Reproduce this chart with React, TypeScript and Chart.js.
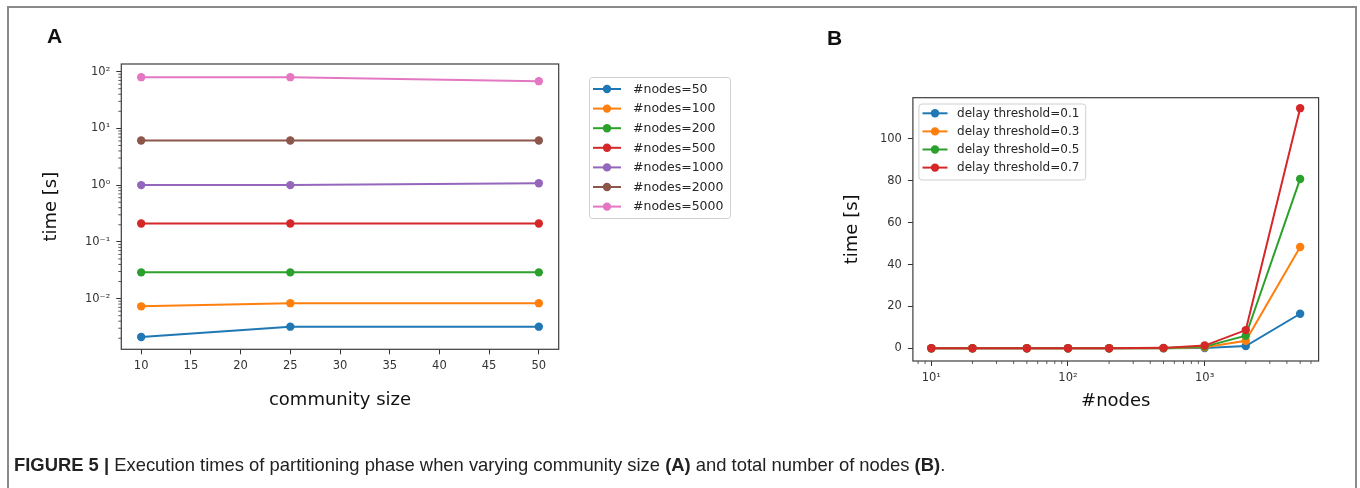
import React, { useEffect, useRef } from 'react';
import { Chart, registerables } from 'chart.js';

Chart.register(...registerables);

// ---------- Panel A data ----------
const communitySizes = [10, 25, 50];
const nodes50 = [0.0021, 0.0032, 0.0032];
const nodes100 = [0.0073, 0.0083, 0.0083];
const nodes200 = [0.029, 0.029, 0.029];
const nodes500 = [0.21, 0.21, 0.21];
const nodes1000 = [1.0, 1.0, 1.08];
const nodes2000 = [6.1, 6.1, 6.1];
const nodes5000 = [80, 80, 68];
const seriesA = [nodes50, nodes100, nodes200, nodes500, nodes1000, nodes2000, nodes5000];
const labelsA = ['#nodes=50', '#nodes=100', '#nodes=200', '#nodes=500', '#nodes=1000', '#nodes=2000', '#nodes=5000'];
const colorsA = ['#1f77b4', '#ff7f0e', '#2ca02c', '#d62728', '#9467bd', '#8c564b', '#e377c2'];
const xTicksA = [10, 15, 20, 25, 30, 35, 40, 45, 50];
const yMajorA = [0.01, 0.1, 1, 10, 100];
const yLabelsA = ['10⁻²', '10⁻¹', '10⁰', '10¹', '10²'];

// ---------- Panel B data ----------
const nodeCounts = [10, 20, 50, 100, 200, 500, 1000, 2000, 5000];
const delay01 = [0.02, 0.02, 0.02, 0.02, 0.02, 0.03, 0.1, 1.1, 16.5];
const delay03 = [0.02, 0.02, 0.02, 0.02, 0.03, 0.06, 0.5, 3.6, 48.4];
const delay05 = [0.02, 0.02, 0.02, 0.02, 0.04, 0.1, 0.8, 6.0, 80.9];
const delay07 = [0.02, 0.02, 0.02, 0.03, 0.05, 0.2, 1.3, 8.7, 114.7];
const seriesB = [delay01, delay03, delay05, delay07];
const labelsB = ['delay threshold=0.1', 'delay threshold=0.3', 'delay threshold=0.5', 'delay threshold=0.7'];
const colorsB = ['#1f77b4', '#ff7f0e', '#2ca02c', '#d62728'];
const xMajorB = [10, 100, 1000];
const xLabelsB = ['10¹', '10²', '10³'];
const yTicksB = [0, 20, 40, 60, 80, 100];

const TICK_FONT = { family: 'DejaVu Sans', size: 11.5 };
const TITLE_FONT = { family: 'DejaVu Sans', size: 18 };
const TICK_COLOR = '#333';

function minorLog(min: number, max: number): number[] {
  const out: number[] = [];
  for (let e = Math.floor(Math.log10(min)); e <= Math.ceil(Math.log10(max)); e++) {
    for (let k = 2; k <= 9; k++) {
      const v = k * Math.pow(10, e);
      if (v >= min && v <= max) out.push(v);
    }
  }
  return out;
}

const decorPlugin = {
  id: 'decor',
  afterDraw(chart: any, _args: any, opts: any) {
    const ctx = chart.ctx;
    const a = chart.chartArea;
    ctx.save();
    // minor ticks
    ctx.strokeStyle = TICK_COLOR;
    ctx.lineWidth = 0.8;
    (opts.minorY || []).forEach((v: number) => {
      const y = chart.scales.y.getPixelForValue(v);
      ctx.beginPath();
      ctx.moveTo(a.left - 3, y);
      ctx.lineTo(a.left, y);
      ctx.stroke();
    });
    (opts.minorX || []).forEach((v: number) => {
      const x = chart.scales.x.getPixelForValue(v);
      ctx.beginPath();
      ctx.moveTo(x, a.bottom);
      ctx.lineTo(x, a.bottom + 3);
      ctx.stroke();
    });
    // spines
    ctx.strokeStyle = '#3c3c3c';
    ctx.lineWidth = 1.2;
    ctx.strokeRect(a.left, a.top, a.right - a.left, a.bottom - a.top);
    // legend
    const L = opts.legend;
    if (L) {
      ctx.fillStyle = 'rgba(255,255,255,0.85)';
      ctx.strokeStyle = '#d0d0d0';
      ctx.lineWidth = 1;
      ctx.beginPath();
      if (ctx.roundRect) ctx.roundRect(L.x, L.y, L.w, L.h, 3);
      else ctx.rect(L.x, L.y, L.w, L.h);
      ctx.fill();
      ctx.stroke();
      ctx.font = `${L.fontSize}px "DejaVu Sans"`;
      ctx.textBaseline = 'middle';
      ctx.textAlign = 'left';
      chart.data.datasets.forEach((ds: any, i: number) => {
        const yy = L.row0 + i * L.pitch;
        ctx.strokeStyle = ds.borderColor;
        ctx.lineWidth = 2;
        ctx.beginPath();
        ctx.moveTo(L.lx0, yy);
        ctx.lineTo(L.lx1, yy);
        ctx.stroke();
        ctx.fillStyle = ds.borderColor;
        ctx.beginPath();
        ctx.arc((L.lx0 + L.lx1) / 2, yy, 4.2, 0, Math.PI * 2);
        ctx.fill();
        ctx.fillStyle = '#262626';
        ctx.fillText(ds.label, L.tx, yy + 0.5);
      });
    }
    ctx.restore();
  },
};

function makeDatasets(xs: number[], series: number[][], labels: string[], colors: string[]) {
  return series.map((ys, i) => ({
    label: labels[i],
    data: xs.map((x, j) => ({ x, y: ys[j] })),
    borderColor: colors[i],
    backgroundColor: colors[i],
    pointBackgroundColor: colors[i],
    pointBorderColor: colors[i],
    borderWidth: 2,
    pointRadius: 4.2,
    pointBorderWidth: 0,
    tension: 0,
    order: -i,
  }));
}

const tickGrid = {
  drawOnChartArea: false,
  drawTicks: true,
  tickLength: 5,
  tickColor: TICK_COLOR,
  tickWidth: 1,
};

function PanelA() {
  const ref = useRef<HTMLCanvasElement>(null);
  useEffect(() => {
    const yMin = Math.pow(10, -2.894);
    const yMax = Math.pow(10, 2.135);
    const chart = new Chart(ref.current as HTMLCanvasElement, {
      type: 'line',
      data: { datasets: makeDatasets(communitySizes, seriesA, labelsA, colorsA) as any },
      plugins: [decorPlugin],
      options: {
        responsive: false,
        animation: false,
        devicePixelRatio: 1,
        layout: { padding: { left: 0, top: 64, right: 760 - 558.7, bottom: 488 - 349.3 - 80 } },
        plugins: {
          legend: { display: false },
          tooltip: { enabled: false },
          decor: {
            minorY: minorLog(yMin, yMax),
            legend: { x: 589.5, y: 77.5, w: 141, h: 141, row0: 89, pitch: 19.6, lx0: 593, lx1: 621, tx: 633, fontSize: 12.5 },
          },
        } as any,
        scales: {
          x: {
            type: 'linear',
            min: 8,
            max: 52,
            bounds: 'data',
            afterBuildTicks: (s: any) => { s.ticks = xTicksA.map((v) => ({ value: v })); },
            afterFit: (s: any) => { s.height = 80; },
            ticks: { autoSkip: false, maxRotation: 0, font: TICK_FONT, color: TICK_COLOR, padding: 5, callback: (v: any) => String(v) },
            grid: tickGrid,
            border: { display: false },
            title: { display: true, text: 'community size', font: TITLE_FONT, color: '#111', padding: { top: 0, bottom: 18.5 } },
          },
          y: {
            type: 'logarithmic',
            min: yMin,
            max: yMax,
            bounds: 'data',
            afterBuildTicks: (s: any) => { s.ticks = yMajorA.map((v) => ({ value: v })); },
            afterFit: (s: any) => { s.width = 121.3; },
            ticks: {
              autoSkip: false, font: TICK_FONT, color: TICK_COLOR, padding: 6,
              callback: (v: any) => { const i = yMajorA.findIndex((m) => Math.abs(m - v) / m < 1e-6); return i >= 0 ? yLabelsA[i] : ''; },
            },
            grid: tickGrid,
            border: { display: false },
            title: { display: true, text: 'time [s]', font: TITLE_FONT, color: '#111', padding: { top: 40.9, bottom: 0 } },
          },
        },
      } as any,
    });
    return () => chart.destroy();
  }, []);
  return <canvas ref={ref} width={760} height={488} style={{ position: 'absolute', left: 0, top: 0, width: 760, height: 488 }} />;
}

function PanelB() {
  const ref = useRef<HTMLCanvasElement>(null);
  useEffect(() => {
    const xMin = Math.pow(10, 0.865);
    const xMax = Math.pow(10, 3.834);
    const chart = new Chart(ref.current as HTMLCanvasElement, {
      type: 'line',
      data: { datasets: makeDatasets(nodeCounts, seriesB, labelsB, colorsB) as any },
      plugins: [decorPlugin],
      options: {
        responsive: false,
        animation: false,
        devicePixelRatio: 1,
        layout: { padding: { left: 0, top: 97.7, right: 600 - 558.6, bottom: 488 - 361 - 80 } },
        plugins: {
          legend: { display: false },
          tooltip: { enabled: false },
          decor: {
            minorX: minorLog(xMin, xMax),
            legend: { x: 918.9 - 760, y: 104, w: 166.8, h: 76, row0: 113.3, pitch: 18.1, lx0: 922.5 - 760, lx1: 947.5 - 760, tx: 957.1 - 760, fontSize: 12 },
          },
        } as any,
        scales: {
          x: {
            type: 'logarithmic',
            min: xMin,
            max: xMax,
            bounds: 'data',
            afterBuildTicks: (s: any) => { s.ticks = xMajorB.map((v) => ({ value: v })); },
            afterFit: (s: any) => { s.height = 80; },
            ticks: {
              autoSkip: false, maxRotation: 0, font: TICK_FONT, color: TICK_COLOR, padding: 5,
              callback: (v: any) => { const i = xMajorB.findIndex((m) => Math.abs(m - v) / m < 1e-6); return i >= 0 ? xLabelsB[i] : ''; },
            },
            grid: tickGrid,
            border: { display: false },
            title: { display: true, text: '#nodes', font: TITLE_FONT, color: '#111', padding: { top: 0, bottom: 28.5 } },
          },
          y: {
            type: 'linear',
            min: -6.07,
            max: 119.7,
            bounds: 'data',
            afterBuildTicks: (s: any) => { s.ticks = yTicksB.map((v) => ({ value: v })); },
            afterFit: (s: any) => { s.width = 152.9; },
            ticks: { autoSkip: false, font: TICK_FONT, color: TICK_COLOR, padding: 6, callback: (v: any) => String(v) },
            grid: tickGrid,
            border: { display: false },
            title: { display: true, text: 'time [s]', font: TITLE_FONT, color: '#111', padding: { top: 81.5, bottom: 0 } },
          },
        },
      } as any,
    });
    return () => chart.destroy();
  }, []);
  return <canvas ref={ref} width={600} height={488} style={{ position: 'absolute', left: 760, top: 0, width: 600, height: 488 }} />;
}

export default function App() {
  const letter: React.CSSProperties = {
    position: 'absolute',
    fontFamily: '"Liberation Sans", Arial, sans-serif',
    fontWeight: 'bold',
    fontSize: 21,
    lineHeight: '21px',
    color: '#111',
  };
  return (
    <div style={{ position: 'absolute', left: 0, top: 0, width: 1360, height: 488, overflow: 'hidden', background: '#fff' }}>
      <div style={{ position: 'absolute', left: 7, top: 6, width: 1350, height: 600, border: '2px solid #8a8a8a', boxSizing: 'border-box' }} />
      <PanelA />
      <PanelB />
      <div style={{ ...letter, left: 47, top: 25.2 }}>A</div>
      <div style={{ ...letter, left: 827, top: 27.2 }}>B</div>
      <div
        style={{
          position: 'absolute',
          left: 14,
          top: 455.5,
          fontFamily: '"Liberation Sans", Arial, sans-serif',
          fontSize: 18.4,
          lineHeight: '18px',
          color: '#222',
          whiteSpace: 'nowrap',
        }}
      >
        <b>FIGURE 5 |</b> Execution times of partitioning phase when varying community size <b>(A)</b> and total number of nodes <b>(B)</b>.
      </div>
    </div>
  );
}
